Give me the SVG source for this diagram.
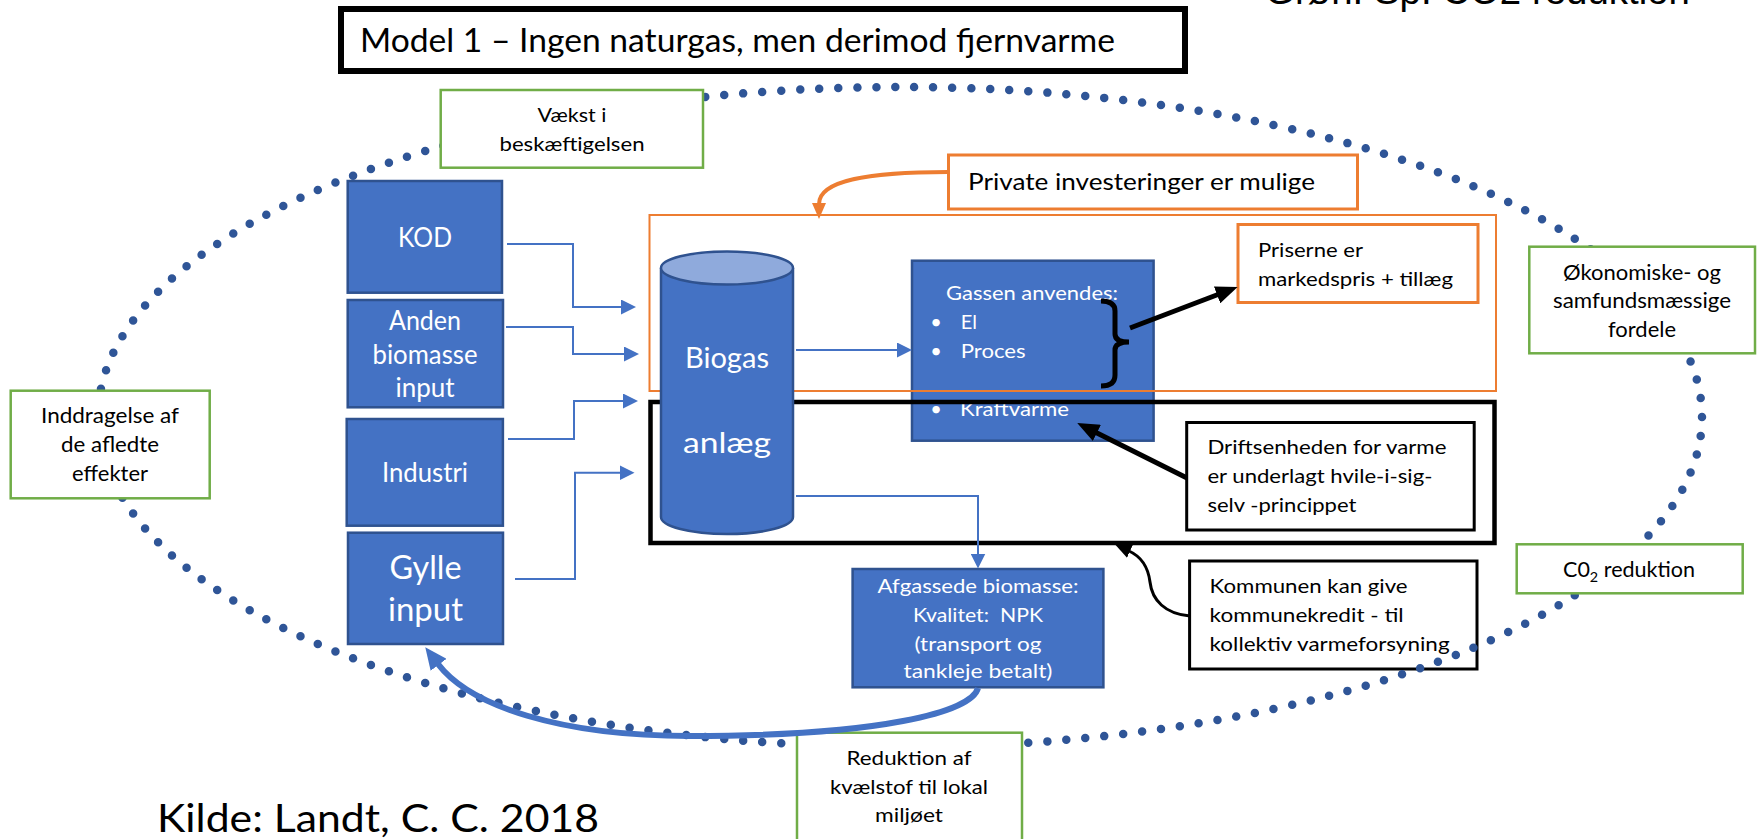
<svg xmlns="http://www.w3.org/2000/svg" width="1757" height="839" viewBox="0 0 1757 839">
<defs>
<style>
text{font-family:Lato,"Liberation Sans",sans-serif;fill:#000}
.w{fill:#fff}
.m{text-anchor:middle}
.blue{fill:#4472C4;stroke:#2F528F;stroke-width:2.5}
.green{fill:#fff;stroke:#70AD47;stroke-width:2.5}
.orange{fill:#fff;stroke:#ED7D31;stroke-width:3}
.blk{fill:#fff;stroke:#000;stroke-width:3}
.conn{fill:none;stroke:#4472C4;stroke-width:2}
.f20{font-size:20px}
.f21{font-size:21px}
.f26{font-size:26px}
</style>
<marker id="ab" markerUnits="userSpaceOnUse" markerWidth="15" markerHeight="15" viewBox="0 0 15 15" refX="0.5" refY="7.5" orient="auto"><path d="M0,0 L15,7.5 L0,15 z" fill="#4472C4"/></marker>
<marker id="ak" markerUnits="userSpaceOnUse" markerWidth="22" markerHeight="18" viewBox="0 0 22 18" refX="1" refY="9" orient="auto"><path d="M0,0 L22,9 L0,18 z" fill="#000"/></marker>
<marker id="ak2" markerUnits="userSpaceOnUse" markerWidth="16" markerHeight="14" viewBox="0 0 16 14" refX="1" refY="7" orient="auto"><path d="M0,0 L16,7 L0,14 z" fill="#000"/></marker>
<marker id="ao" markerUnits="userSpaceOnUse" markerWidth="16" markerHeight="14" viewBox="0 0 16 14" refX="1" refY="7" orient="auto"><path d="M0,0 L16,7 L0,14 z" fill="#ED7D31"/></marker>
<marker id="abt" markerUnits="userSpaceOnUse" markerWidth="22" markerHeight="20" viewBox="0 0 22 20" refX="1" refY="10" orient="auto"><path d="M0,0 L22,10 L0,20 z" fill="#4472C4"/></marker>
</defs>
<rect x="0" y="0" width="1757" height="839" fill="#fff"/>

<text x="1265" y="4" font-size="38" textLength="425" lengthAdjust="spacingAndGlyphs" style="font-family:'Liberation Sans',sans-serif">Grøn. Sp. CO2 reduktion</text>

<g id="title">
<rect x="341" y="9" width="844" height="62" fill="#fff" stroke="#000" stroke-width="6"/>
<text x="360" y="52" font-size="33" textLength="755" lengthAdjust="spacingAndGlyphs">Model 1 – Ingen naturgas, men derimod fjernvarme</text>
</g>

<g id="kommunen">
<rect class="blk" x="1189.6" y="561" width="287.4" height="108"/>
<text class="f20" x="1209.6" y="593.3" textLength="198" lengthAdjust="spacingAndGlyphs">Kommunen kan give</text>
<text class="f20" x="1209.6" y="621.7" textLength="194" lengthAdjust="spacingAndGlyphs">kommunekredit - til</text>
<text class="f20" x="1209.6" y="650.7" textLength="240" lengthAdjust="spacingAndGlyphs">kollektiv varmeforsyning</text>
</g>

<g id="kod">
<rect class="blue" x="347.7" y="181" width="154.3" height="111.7"/>
<text class="w m f26" x="425" y="246.7" textLength="54" lengthAdjust="spacingAndGlyphs">KOD</text>
</g>
<g id="anden">
<rect class="blue" x="347.7" y="300" width="155.3" height="107.3"/>
<text class="w m f26" x="425" y="330" textLength="72" lengthAdjust="spacingAndGlyphs">Anden</text>
<text class="w m f26" x="425" y="364" textLength="105" lengthAdjust="spacingAndGlyphs">biomasse</text>
<text class="w m f26" x="425" y="397">input</text>
</g>
<g id="industri">
<rect class="blue" x="346.7" y="419" width="156.2" height="106.7"/>
<text class="w m f26" x="425" y="481.7" textLength="86" lengthAdjust="spacingAndGlyphs">Industri</text>
</g>
<g id="gylle">
<rect class="blue" x="348" y="532.7" width="155" height="111.3"/>
<text class="w m" font-size="32" x="425.5" y="579" textLength="72" lengthAdjust="spacingAndGlyphs">Gylle</text>
<text class="w m" font-size="32" x="425.5" y="621" textLength="75" lengthAdjust="spacingAndGlyphs">input</text>
</g>

<g id="gassen">
<rect class="blue" x="912" y="260.7" width="241.6" height="180"/>
<text class="w f20" x="946" y="300" textLength="172" lengthAdjust="spacingAndGlyphs">Gassen anvendes:</text>
<text class="w m f20" x="936" y="329">•</text>
<text class="w f20" x="960.7" y="329">El</text>
<text class="w m f20" x="936" y="358.3">•</text>
<text class="w f20" x="960.7" y="358.3" textLength="65" lengthAdjust="spacingAndGlyphs">Proces</text>
<text class="w m f20" x="936" y="416">•</text>
<text class="w f20" x="960" y="416" textLength="109" lengthAdjust="spacingAndGlyphs">Kraftvarme</text>
</g>

<g id="frames">
<rect x="649.5" y="215" width="846.5" height="176" fill="none" stroke="#ED7D31" stroke-width="2"/>
<rect x="650.5" y="402" width="844" height="141" fill="none" stroke="#000" stroke-width="4.5"/>
</g>

<g id="biogas">
<path class="blue" d="M661,268 V517 A66,17 0 0 0 793,517 V268"/>
<ellipse cx="727" cy="268" rx="66" ry="16.5" fill="#8FAADC" stroke="#2F528F" stroke-width="2.5"/>
<text class="w m" font-size="28" x="727" y="368" textLength="84" lengthAdjust="spacingAndGlyphs">Biogas</text>
<text class="w m" font-size="28" x="727" y="453" textLength="88" lengthAdjust="spacingAndGlyphs">anlæg</text>
</g>

<g id="afgassede">
<rect class="blue" x="852.6" y="569" width="250.8" height="118.3"/>
<text class="w m f20" x="978" y="593.3" textLength="201" lengthAdjust="spacingAndGlyphs">Afgassede biomasse:</text>
<text class="w m f20" x="978" y="621.7" textLength="130" lengthAdjust="spacingAndGlyphs" xml:space="preserve">Kvalitet:  NPK</text>
<text class="w m f20" x="978" y="650.7" textLength="127" lengthAdjust="spacingAndGlyphs">(transport og</text>
<text class="w m f20" x="978" y="678.3" textLength="149" lengthAdjust="spacingAndGlyphs">tankleje betalt)</text>
</g>

<g id="private">
<rect class="orange" x="948.5" y="155" width="409" height="54"/>
<text x="968" y="190" font-size="24" textLength="347" lengthAdjust="spacingAndGlyphs">Private investeringer er mulige</text>
</g>
<g id="priserne">
<rect class="orange" x="1238" y="224.5" width="240" height="78"/>
<text class="f20" x="1258" y="257.3" textLength="105" lengthAdjust="spacingAndGlyphs">Priserne er</text>
<text class="f20" x="1258" y="285.7" textLength="195" lengthAdjust="spacingAndGlyphs">markedspris + tillæg</text>
</g>
<g id="driftsenheden">
<rect class="blk" x="1186.7" y="422.5" width="287.5" height="107.5"/>
<text class="f20" x="1207.4" y="454" textLength="239" lengthAdjust="spacingAndGlyphs">Driftsenheden for varme</text>
<text class="f20" x="1207.4" y="483.3" textLength="225" lengthAdjust="spacingAndGlyphs">er underlagt hvile-i-sig-</text>
<text class="f20" x="1207.4" y="511.7" textLength="149" lengthAdjust="spacingAndGlyphs">selv -princippet</text>
</g>

<g id="ring">
<ellipse cx="900" cy="417" rx="802" ry="330" fill="none" stroke="#2F5597" stroke-width="8.5" stroke-linecap="round" stroke-dasharray="0 1" pathLength="195"/>
</g>

<g id="vaekst">
<rect class="green" x="440.7" y="90" width="262.3" height="77.7"/>
<text class="m f20" x="572" y="121.7" textLength="69" lengthAdjust="spacingAndGlyphs">Vækst i</text>
<text class="m f20" x="572" y="150.7" textLength="145" lengthAdjust="spacingAndGlyphs">beskæftigelsen</text>
</g>
<g id="inddragelse">
<rect class="green" x="10.7" y="390.7" width="199" height="107.6"/>
<text class="m f21" x="110" y="422.7" textLength="138" lengthAdjust="spacingAndGlyphs">Inddragelse af</text>
<text class="m f21" x="110" y="451.7" textLength="98" lengthAdjust="spacingAndGlyphs">de afledte</text>
<text class="m f21" x="110" y="480.7" textLength="76" lengthAdjust="spacingAndGlyphs">effekter</text>
</g>
<g id="oekonomiske">
<rect class="green" x="1529.3" y="246.7" width="225.7" height="106.6"/>
<text class="m f21" x="1642" y="280" textLength="158" lengthAdjust="spacingAndGlyphs">Økonomiske- og</text>
<text class="m f21" x="1642" y="308.3" textLength="178" lengthAdjust="spacingAndGlyphs">samfundsmæssige</text>
<text class="m f21" x="1642" y="336.7" textLength="68" lengthAdjust="spacingAndGlyphs">fordele</text>
</g>
<g id="co2">
<rect class="green" x="1516.7" y="544.3" width="226" height="49"/>
<text class="f21" x="1563" y="576.7" textLength="132" lengthAdjust="spacingAndGlyphs">C0<tspan font-size="14" dy="5">2</tspan><tspan dy="-5"> reduktion</tspan></text>
</g>
<g id="reduktion">
<rect class="green" x="797" y="732.7" width="225" height="120"/>
<text class="m f20" x="909" y="765" textLength="125" lengthAdjust="spacingAndGlyphs">Reduktion af</text>
<text class="m f20" x="909" y="794" textLength="158" lengthAdjust="spacingAndGlyphs">kvælstof til lokal</text>
<text class="m f20" x="909" y="822.3" textLength="68" lengthAdjust="spacingAndGlyphs">miljøet</text>
</g>

<g id="connectors">
<path class="conn" d="M507,244 H573 V307 H621.5" marker-end="url(#ab)"/>
<path class="conn" d="M506,327 H573 V354 H624.5" marker-end="url(#ab)"/>
<path class="conn" d="M508,439 H574 V401 H623.5" marker-end="url(#ab)"/>
<path class="conn" d="M515,579 H575 V472.7 H620" marker-end="url(#ab)"/>
<path class="conn" d="M796,350 H897.5" marker-end="url(#ab)"/>
<path class="conn" d="M796,496 H978 V554" marker-end="url(#ab)"/>
<path d="M1130,328 L1218,294.5" fill="none" stroke="#000" stroke-width="5" marker-end="url(#ak)"/>
<path d="M1187,478 L1096,432.4" fill="none" stroke="#000" stroke-width="5" marker-end="url(#ak)"/>
<path d="M1101,301 Q1115,301 1115,311 V334 Q1115,342 1129,342 Q1115,342 1115,350 V375 Q1115,386 1101,386" fill="none" stroke="#000" stroke-width="5"/>
<path d="M948,172 C870,172 819,180 819,204" fill="none" stroke="#ED7D31" stroke-width="4" marker-end="url(#ao)"/>
<path d="M1190,616 C1165,614 1152,600 1150,582 C1148,566 1140,556 1129,551" fill="none" stroke="#000" stroke-width="3" marker-end="url(#ak2)"/>
<path d="M978,688 C972,712 880,736 690,736 C560,736 470,706 438,664" fill="none" stroke="#4472C4" stroke-width="6" marker-end="url(#abt)"/>
</g>

<text x="157" y="831.7" font-size="39" textLength="442" lengthAdjust="spacingAndGlyphs">Kilde: Landt, C. C. 2018</text>
</svg>
